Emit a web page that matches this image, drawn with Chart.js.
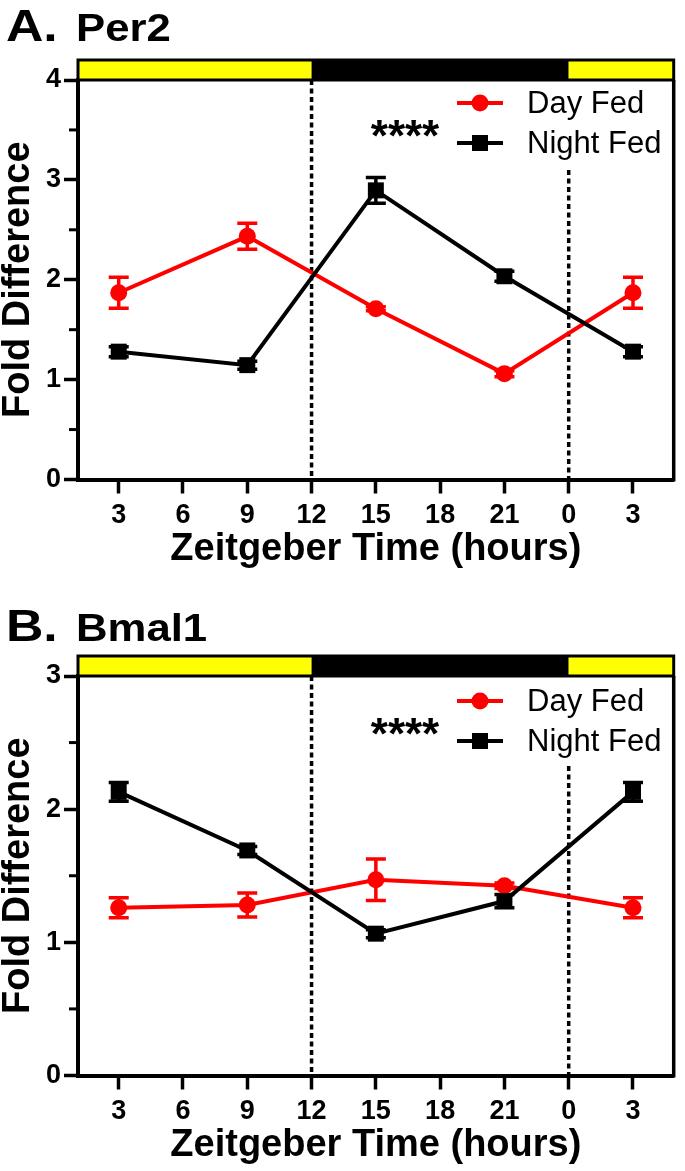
<!DOCTYPE html>
<html>
<head>
<meta charset="utf-8">
<script src="https://cdn.jsdelivr.net/npm/chart.js@4.4.1/dist/chart.umd.min.js"></script>
<style>
  html, body { margin: 0; padding: 0; background: #fff; }
  body { width: 685px; height: 1171px; position: relative; overflow: hidden;
         font-family: "Liberation Sans", Arial, Helvetica, sans-serif; }
  .panel { position: absolute; left: 0; width: 685px; height: 575px; }
  .ttl { position: absolute; font-weight: bold; color: #000; line-height: 1; white-space: nowrap;
         transform-origin: 0 0; transform: scaleX(1.15); }
</style>
</head>
<body>
<canvas id="chartA" class="panel" style="top:0" width="685" height="575"></canvas>
<canvas id="chartB" class="panel" style="top:596px" width="685" height="575"></canvas>
<div class="ttl" style="left:6px;top:3px;font-size:45px">A.</div>
<div class="ttl" style="left:76px;top:9px;font-size:38px">Per2</div>
<div class="ttl" style="left:6px;top:603px;font-size:45px">B.</div>
<div class="ttl" style="left:76px;top:609px;font-size:38px">Bmal1</div>
<script>
// --- data ---
const zt = [3, 9, 15, 21, 27];           // 27 = ZT3 of the next day
const xTicks = [3, 6, 9, 12, 15, 18, 21, 24, 27];

const per2Day = [1.87, 2.435, 1.71, 1.06, 1.87];
const per2DaySem = [0.155, 0.13, 0.02, 0.03, 0.155];
const per2Night = [1.28, 1.145, 2.895, 2.035, 1.28];
const per2NightSem = [0.05, 0.04, 0.13, 0.05, 0.05];

const bmalDay = [1.26, 1.28, 1.47, 1.425, 1.26];
const bmalDaySem = [0.075, 0.09, 0.155, 0.02, 0.075];
const bmalNight = [2.13, 1.69, 1.065, 1.31, 2.13];
const bmalNightSem = [0.07, 0.03, 0.03, 0.05, 0.07];

const lightDark = [ // ZT ranges of the light/dark bar
  { from: 1.1, to: 12, color: '#ffff00' },
  { from: 12, to: 24, color: '#000000' },
  { from: 24, to: 28.9, color: '#ffff00' }
];

const FONT = '"Liberation Sans", Arial, Helvetica, sans-serif';
Chart.defaults.font.family = FONT;
Chart.defaults.color = '#000';

// --- plugins ---
const decorPlugin = {
  id: 'decor',
  beforeDatasetsDraw(chart) {
    const { ctx, chartArea: a, scales: { x, y } } = chart;
    ctx.save();
    // dotted lights-on / lights-off lines
    ctx.strokeStyle = '#000';
    ctx.lineWidth = 3.5;
    ctx.setLineDash([5, 3.5]);
    [[12, a.top], [24, a.top + 90]].forEach(([v, y0]) => {
      const px = x.getPixelForValue(v);
      ctx.beginPath(); ctx.moveTo(px, y0); ctx.lineTo(px, a.bottom); ctx.stroke();
    });
    ctx.setLineDash([]);
    // error bars
    chart.data.datasets.forEach(ds => {
      ctx.strokeStyle = ds.borderColor;
      ctx.lineWidth = 3.5;
      ds.data.forEach((p, i) => {
        const s = ds.sem[i];
        const px = x.getPixelForValue(p.x);
        const top = y.getPixelForValue(p.y + s);
        const bot = y.getPixelForValue(p.y - s);
        ctx.beginPath();
        ctx.moveTo(px, top); ctx.lineTo(px, bot);
        ctx.moveTo(px - 10, top); ctx.lineTo(px + 10, top);
        ctx.moveTo(px - 10, bot); ctx.lineTo(px + 10, bot);
        ctx.stroke();
      });
    });
    ctx.restore();
  },
  afterDraw(chart) {
    const { ctx, chartArea: a, scales: { x, y } } = chart;
    ctx.save();
    // minor y ticks
    ctx.strokeStyle = '#000';
    ctx.lineWidth = 3;
    for (let v = 0.5; v < y.max; v += 1) {
      const py = y.getPixelForValue(v);
      ctx.beginPath(); ctx.moveTo(a.left - 9, py); ctx.lineTo(a.left, py); ctx.stroke();
    }
    // right frame line
    ctx.lineWidth = 3.5;
    ctx.beginPath(); ctx.moveTo(a.right, a.top); ctx.lineTo(a.right, a.bottom + 2); ctx.stroke();
    // light / dark bar
    const h = 20;
    lightDark.forEach(seg => {
      const x0 = Math.max(a.left, x.getPixelForValue(seg.from));
      const x1 = Math.min(a.right, x.getPixelForValue(seg.to));
      ctx.fillStyle = seg.color;
      ctx.fillRect(x0, a.top - h, x1 - x0, h);
    });
    ctx.lineWidth = 3;
    ctx.strokeRect(a.left, a.top - h, a.right - a.left, h);
    // legend
    const opts = chart.options.plugins.decor;
    chart.data.datasets.slice().reverse().forEach((ds, i) => {
      const ly = a.top + 23 + i * 40 + opts.shift;
      ctx.strokeStyle = ds.borderColor;
      ctx.fillStyle = ds.borderColor;
      ctx.lineWidth = 4;
      ctx.beginPath(); ctx.moveTo(457, ly); ctx.lineTo(503, ly); ctx.stroke();
      if (ds.pointStyle === 'circle') {
        ctx.beginPath(); ctx.arc(480, ly, 8.5, 0, Math.PI * 2); ctx.fill();
      } else {
        ctx.fillRect(472, ly - 8, 16, 16);
      }
      ctx.fillStyle = '#000';
      ctx.font = '31px ' + FONT;
      ctx.textBaseline = 'middle';
      ctx.textAlign = 'left';
      ctx.fillText(ds.label, 527, ly + 1);
    });
    // significance stars
    ctx.font = 'bold 44px ' + FONT;
    ctx.textAlign = 'center';
    ctx.textBaseline = 'alphabetic';
    ctx.fillText('****', 405, a.top + 71 + opts.shift);
    ctx.restore();
  }
};

function makePanel(id, day, daySem, night, nightSem, yMax, shift) {
  const pts = arr => arr.map((v, i) => ({ x: zt[i], y: v }));
  return new Chart(document.getElementById(id), {
    type: 'line',
    data: {
      datasets: [
        { label: 'Night Fed', data: pts(night), sem: nightSem, order: 0,
          borderColor: '#000000', backgroundColor: '#000000', borderWidth: 4,
          pointStyle: 'rect', pointRadius: 11.3, pointBorderWidth: 0, tension: 0, clip: false },
        { label: 'Day Fed', data: pts(day), sem: daySem, order: 1,
          borderColor: '#ff0000', backgroundColor: '#ff0000', borderWidth: 4,
          pointStyle: 'circle', pointRadius: 8.5, pointBorderWidth: 0, tension: 0, clip: false }
      ]
    },
    options: {
      responsive: false,
      animation: false,
      devicePixelRatio: 1,
      layout: { padding: { top: 80, right: 7, left: 0, bottom: 0 } },
      plugins: { legend: { display: false }, tooltip: { enabled: false }, decor: { shift } },
      scales: {
        x: {
          type: 'linear', min: 1.1, max: 28.9,
          afterBuildTicks: s => { s.ticks = xTicks.map(v => ({ value: v })); },
          afterFit: s => { s.height = 575 - 479.5; },
          ticks: { callback: v => String(v % 24), autoSkip: false, maxRotation: 0, padding: 6,
                   font: { size: 27, weight: 'bold' }, color: '#000' },
          grid: { drawOnChartArea: false, tickLength: 14, tickWidth: 3.5, tickColor: '#000' },
          border: { display: true, color: '#000', width: 4 },
          title: { display: true, text: 'Zeitgeber Time (hours)', color: '#000',
                   font: { size: 38, weight: 'bold' }, padding: { top: 0, bottom: 3 } }
        },
        y: {
          min: 0, max: yMax,
          afterBuildTicks: s => {
            const t = [];
            for (let v = 0; v <= yMax; v++) t.push({ value: v });
            s.ticks = t;
          },
          afterFit: s => { s.width = 78; },
          ticks: { padding: 3, font: { size: 27, weight: 'bold' }, color: '#000' },
          grid: { drawOnChartArea: false, tickLength: 14, tickWidth: 3.5, tickColor: '#000' },
          border: { display: true, color: '#000', width: 4 },
          title: { display: true, text: 'Fold Difference', color: '#000',
                   font: { size: 38, weight: 'bold', lineHeight: 1 }, padding: 0 }
        }
      }
    },
    plugins: [decorPlugin]
  });
}

makePanel('chartA', per2Day, per2DaySem, per2Night, per2NightSem, 4, 0);
makePanel('chartB', bmalDay, bmalDaySem, bmalNight, bmalNightSem, 3, 2);
</script>
</body>
</html>
